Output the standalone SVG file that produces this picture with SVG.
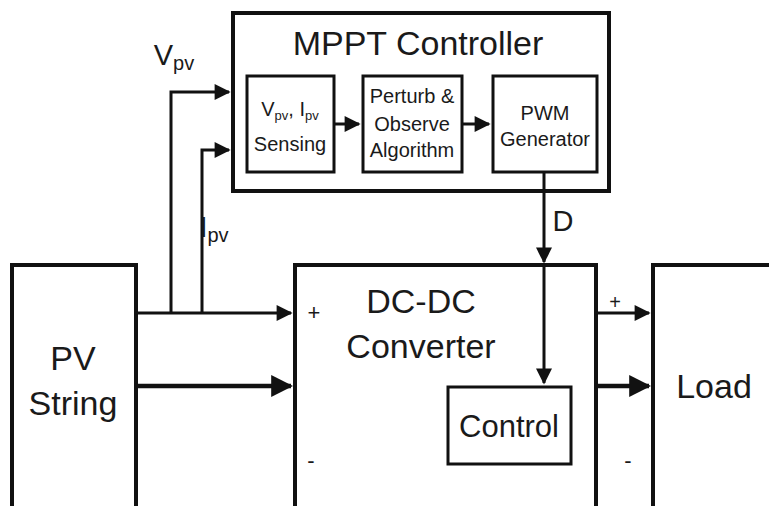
<svg xmlns="http://www.w3.org/2000/svg" width="769" height="506" viewBox="0 0 769 506">
<style>
.box{fill:#fff;stroke:#111;stroke-width:4}
.sub{fill:#fff;stroke:#111;stroke-width:3}
.w{stroke:#111;stroke-width:3;fill:none}
.wt{stroke:#111;stroke-width:4.5;fill:none}
text{font-family:"Liberation Sans",Arial,sans-serif;fill:#1a1a1a;text-anchor:middle}
.big{font-size:34px}
.sm{font-size:20px}
.lbl{font-size:29px}
</style>
<defs>
<marker id="ah" viewBox="0 0 10 10" refX="9" refY="5" markerUnits="userSpaceOnUse" markerWidth="17" markerHeight="16" orient="auto"><path d="M0,0 L10,5 L0,10 z" fill="#111"/></marker>
<marker id="ahb" viewBox="0 0 10 10" refX="9" refY="5" markerUnits="userSpaceOnUse" markerWidth="22" markerHeight="22" orient="auto"><path d="M0,0 L10,5 L0,10 z" fill="#111"/></marker>
</defs>
<rect width="769" height="506" fill="#fff"/>
<g id="mppt">
<rect class="box" x="233" y="13" width="376" height="178"/>
<text class="big" x="418" y="55">MPPT Controller</text>
</g>
<g id="sensing">
<rect class="sub" x="247" y="76" width="87" height="96"/>
<text class="sm" x="290" y="116">V<tspan font-size="13" dy="4">pv</tspan><tspan dy="-4">, I</tspan><tspan font-size="13" dy="4">pv</tspan></text>
<text class="sm" x="290" y="151">Sensing</text>
</g>
<g id="po">
<rect class="sub" x="363" y="76" width="99" height="96"/>
<text class="sm" x="412" y="103">Perturb &amp;</text>
<text class="sm" x="412" y="131">Observe</text>
<text class="sm" x="412" y="157">Algorithm</text>
</g>
<g id="pwm">
<rect class="sub" x="493" y="76" width="104" height="96"/>
<text class="sm" x="545" y="120" font-size="19">PWM</text>
<text class="sm" x="545" y="146" font-size="19">Generator</text>
</g>
<g id="pv">
<rect class="box" x="12" y="265" width="124" height="262"/>
<text class="big" x="73" y="370">PV</text>
<text class="big" x="73" y="415">String</text>
</g>
<g id="dcdc">
<rect class="box" x="295" y="265" width="301" height="262"/>
<text class="big" x="421" y="313">DC-DC</text>
<text class="big" x="421" y="358">Converter</text>
<text x="314" y="320" font-size="22">+</text>
<text x="311" y="468" font-size="22">-</text>
</g>
<g id="control">
<rect class="sub" x="448" y="387" width="123" height="77"/>
<text x="509" y="437" font-size="31">Control</text>
</g>
<g id="load">
<rect class="box" x="653" y="265" width="140" height="262"/>
<text class="big" x="714" y="398">Load</text>
</g>
<g id="connectors">
<path class="w" d="M136,313 H291" marker-end="url(#ah)"/>
<path class="wt" d="M136,386 H291" marker-end="url(#ahb)"/>
<path class="w" d="M171,313 V92 H229" marker-end="url(#ah)"/>
<path class="w" d="M202,313 V150 H229" marker-end="url(#ah)"/>
<path class="w" d="M334,124 H359" marker-end="url(#ah)"/>
<path class="w" d="M462,124 H489" marker-end="url(#ah)"/>
<path class="w" d="M544,172 V262" marker-end="url(#ah)"/>
<path class="w" d="M544,266 V383" marker-end="url(#ah)"/>
<path class="w" d="M596,313 H649" marker-end="url(#ah)"/>
<path class="wt" d="M596,386 H649" marker-end="url(#ahb)"/>
<text class="lbl" x="174" y="65" text-anchor="start">V<tspan font-size="20" dy="5">pv</tspan></text>
<text class="lbl" x="214" y="237" text-anchor="start">I<tspan font-size="20" dy="5">pv</tspan></text>
<text class="lbl" x="563" y="231">D</text>
<text x="615" y="309" font-size="20">+</text>
<text x="628" y="468" font-size="22">-</text>
</g>
</svg>
